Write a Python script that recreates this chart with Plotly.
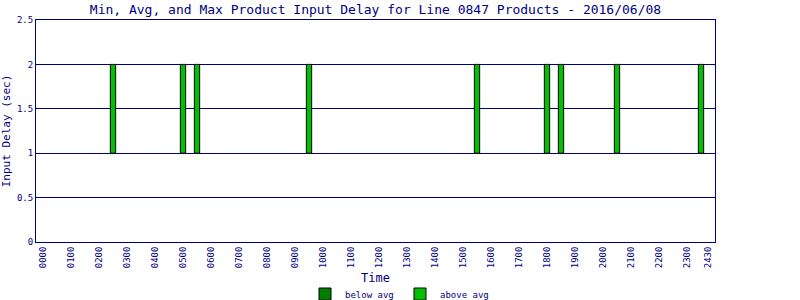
import plotly.graph_objects as go

title = "Min, Avg, and Max Product Input Delay for Line 0847 Products - 2016/06/08"
times = ["0230", "0500", "0530", "0930", "1530", "1800", "1830", "2030", "2330"]
min_delay = [1, 1, 1, 1, 1, 1, 1, 1, 1]
avg_delay = [1, 1, 1, 1, 1, 1, 1, 1, 1]
max_delay = [2, 2, 2, 2, 2, 2, 2, 2, 2]
tick_labels = ["0000", "0100", "0200", "0300", "0400", "0500", "0600", "0700", "0800",
               "0900", "1000", "1100", "1200", "1300", "1400", "1500", "1600", "1700",
               "1800", "1900", "2000", "2100", "2200", "2300", "2430"]
tick_hours = list(range(24)) + [23.75]

x_hours = [int(t[:2]) + int(t[2:]) / 60 for t in times]
navy = "#000080"
font = "DejaVu Sans Mono"

fig = go.Figure()
fig.add_trace(go.Bar(
    x=x_hours, y=[a - m for a, m in zip(avg_delay, min_delay)], base=min_delay,
    name="below avg", width=0.19,
    marker=dict(color="#008000", line=dict(color="black", width=1)),
))
fig.add_trace(go.Bar(
    x=x_hours, y=[mx - a for mx, a in zip(max_delay, avg_delay)], base=avg_delay,
    name="above avg", width=0.19,
    marker=dict(color="#00C000", line=dict(color="black", width=1)),
))

fig.add_annotation(text="Time", x=0.5, xref="paper", y=-(278 - 242) / 222, yref="paper",
                   xanchor="center", yanchor="middle", showarrow=False,
                   font=dict(family=font, size=12, color=navy))

fig.update_layout(
    width=800, height=300,
    margin=dict(l=36, r=85, t=20, b=58),
    paper_bgcolor="white", plot_bgcolor="white",
    barmode="overlay",
    font=dict(family=font, color=navy, size=9),
    title=dict(text=title, x=(36 + 715) / 2 / 800, xanchor="center", y=0.97, yanchor="middle",
               font=dict(family=font, size=13, color=navy)),
    showlegend=True,
    legend=dict(orientation="h", x=0.5, xanchor="center", xref="container",
                y=6 / 300, yanchor="middle", yref="container",
                font=dict(family=font, size=9, color=navy),
                itemwidth=30, entrywidth=50, traceorder="normal",
                tracegroupgap=0, borderwidth=0),
    xaxis=dict(range=[-0.25, 24], tickvals=tick_hours, ticktext=tick_labels,
               tickangle=-90, showgrid=False, zeroline=False, automargin=False,
               showline=True, linecolor=navy, linewidth=1, mirror=True,
               ticks="", tickfont=dict(family=font, size=9, color=navy)),
    yaxis=dict(range=[0, 2.5], tickvals=[0, 0.5, 1, 1.5, 2, 2.5],
               ticktext=["0", "0.5", "1", "1.5", "2", "2.5"], automargin=False,
               showgrid=True, gridcolor=navy, gridwidth=1, zeroline=False,
               showline=True, linecolor=navy, linewidth=1, mirror=True,
               ticks="", tickfont=dict(family=font, size=9, color=navy),
               title=dict(text="Input Delay (sec)", font=dict(family=font, size=11, color=navy), standoff=4)),
)

fig.write_html("out.html")
